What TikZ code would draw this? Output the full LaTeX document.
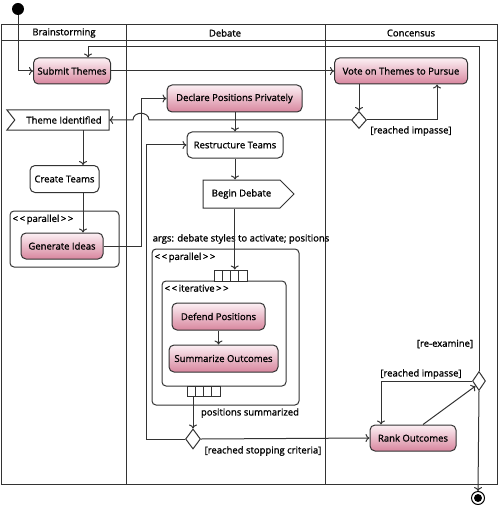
\documentclass[tikz,border=0pt]{standalone}
\usepackage{fontspec}
\setmainfont{Open Sans}[FakeBold=1.2]
\usepackage{tikz}
\usetikzlibrary{shapes.geometric,shapes.symbols}
\definecolor{lineGray}{HTML}{333333}
\definecolor{actTop}{HTML}{FCF0F4}
\definecolor{actBottom}{HTML}{D8869E}
\tikzset{
    action/.style = {rectangle, rounded corners=5pt, minimum height=26pt, text centered, draw=lineGray, top color=actTop, bottom color=actBottom, line width=1pt, font=\fontsize{9.5}{11}\selectfont},
    plain/.style = {rectangle, rounded corners=5pt, minimum height=26pt, text centered, draw=lineGray, fill=white, line width=1pt, font=\fontsize{9.5}{11}\selectfont},
    region/.style = {rectangle, rounded corners=4pt, draw=lineGray, line width=1pt},
    decision/.style = {diamond, draw=lineGray, fill=white, inner sep=0pt, line width=1pt},
    pinbox/.style = {rectangle, draw=lineGray, fill=white, minimum width=8.25pt, minimum height=11pt, inner sep=0pt, line width=1pt},
    guard/.style = {inner sep=0pt, text=black, font=\fontsize{9.5}{11}\selectfont},
    arrow/.style = {line width=1pt, draw=lineGray, -{To[length=4pt,width=8pt]}}
}
\usetikzlibrary{arrows.meta}

\begin{document}
\begin{tikzpicture}[x=1pt, y=-1pt]
\useasboundingbox (0,0) rectangle (500,505);

\draw [line width=1pt, draw=lineGray] (1,25) rectangle (497,484);
\draw [line width=1pt, draw=lineGray] (1,41) -- (497,41);
\draw [line width=1pt, draw=lineGray] (126,25) -- (126,484);
\draw [line width=1pt, draw=lineGray] (325,25) -- (325,484);
\node (hdrBrain) [guard] at (64,33) {Brainstorming};
\node (hdrDebate) [guard] at (225,33) {Debate};
\node (hdrConsensus) [guard] at (411,33) {Concensus};

\node (start) [circle, fill=black, minimum size=12pt, inner sep=0pt] at (18,9) {};
\node (submit) [action, minimum width=77pt] at (72,71) {Submit Themes};
\node (vote) [action, minimum width=133pt] at (401,71) {Vote on Themes to Pursue};
\node (voteDec) [decision, minimum width=15pt, minimum height=17pt] at (359,120) {};
\node (theme) [minimum width=102pt, minimum height=20pt, inner sep=0pt, font=\fontsize{9.5}{11}\selectfont] at (58,120) {\hspace*{12pt}Theme Identified};
\draw [line width=1pt, draw=lineGray] (theme.north west) -- (theme.north east) -- (theme.south east) -- (theme.south west) -- ([xshift=8pt]theme.west) -- cycle;
\node (create) [plain, minimum width=69pt, minimum height=27pt] at (64.5,179) {Create Teams};
\node (parA) [region, minimum width=109pt, minimum height=56pt] at (64.5,239) {};
\node (parALbl) [guard, anchor=north west] at ([xshift=3pt,yshift=-4pt]parA.north west) {<\,<\,parallel\,>\,>};
\node (gen) [action, minimum width=82pt] at (62,246) {Generate Ideas};

\node (declare) [action, minimum width=135pt, minimum height=27pt] at (234.5,98.5) {Declare Positions Privately};
\node (restructure) [plain, minimum width=96pt] at (235,145) {Restructure Teams};
\node (begin) [signal, signal to=east, signal pointer angle=90, draw=lineGray, fill=white, line width=1pt, minimum width=91pt, minimum height=28pt, font=\fontsize{9.5}{11}\selectfont] at (241.5,194) {Begin Debate};
\node (args) [guard] at (241,239) {args: debate styles to activate; positions};
\node (parB) [region, minimum width=147pt, minimum height=156pt] at (225.5,327) {};
\node (parBLbl) [guard, anchor=north west] at ([xshift=3pt,yshift=-4pt]parB.north west) {<\,<\,parallel\,>\,>};
\node (iter) [region, minimum width=124pt, minimum height=105pt] at (224,333.5) {};
\node (iterLbl) [guard, anchor=north west] at ([xshift=3pt,yshift=-4pt]iter.north west) {<\,<\,iterative\,>\,>};
\foreach \i in {1,...,4} {
    \node (pinIn\i) [pinbox] at ({210+8.25*\i},275.5) {};
    \node (pinOut\i) [pinbox, minimum height=10pt] at ({183+8.25*\i},391) {};
}
\node (defend) [action, minimum width=93pt, minimum height=27pt] at (218.5,316.5) {Defend Positions};
\node (summarize) [action, minimum width=109pt, minimum height=27pt] at (223.5,358.5) {Summarize Outcomes};
\node (summarized) [guard] at (250,413) {positions summarized};
\node (stopDec) [decision, minimum width=15pt, minimum height=20pt] at (193,439) {};
\node (stopGuard) [guard] at (263,451) {[reached stopping criteria]};

\node (voteGuard) [guard] at (411,131) {[reached impasse]};
\node (rank) [action, minimum width=86pt] at (413,438) {Rank Outcomes};
\node (reDec) [decision, minimum width=13pt, minimum height=19pt] at (479,381) {};
\node (impasseGuard) [guard] at (421,374) {[reached impasse]};
\node (reGuard) [guard] at (445,344) {[re-examine]};
\node (end) [circle, draw=black, line width=1pt, minimum size=13pt, inner sep=0pt, path picture={\fill[black] (path picture bounding box.center) circle (4pt);}] at (478,498) {};

\coordinate (loopTop) at (479,47);
\coordinate (hopX) at (141,0);
\coordinate (backX) at (146,0);
\coordinate (colA) at (83,0);

\draw [arrow] (start) |- (submit.west);
\draw [arrow] (reDec.north) -- (loopTop) -| ([xshift=16pt]submit.north);
\draw [arrow] (submit) -- (vote);
\draw [arrow] (vote.south -| voteDec) -- (voteDec.north);
\draw [arrow] (voteDec.east) -| ([xshift=36pt]vote.south);
\draw [arrow] (voteDec.west) -- ([xshift=8pt]voteDec.west -| hopX) .. controls ([xshift=8pt,yshift=9pt]voteDec.west -| hopX) and ([xshift=-8pt,yshift=9pt]voteDec.west -| hopX) .. ([xshift=-8pt]voteDec.west -| hopX) -- (theme.east);
\draw [arrow] (theme.south -| colA) -- (create.north -| colA);
\draw [arrow] (create.south -| colA) -- (gen.north -| colA);
\draw [arrow] (gen.east) -- (gen.east -| hopX) |- (declare.west);
\draw [arrow] (declare.south -| restructure) -- (restructure.north);
\draw [arrow] (restructure.south) -- (restructure.south |- begin.north);
\draw [arrow] (pinIn3 |- begin.south) -- (pinIn3.north);
\draw [arrow] (defend.south) -- (defend.south |- summarize.north);
\draw [arrow] (stopDec |- pinOut2.south) -- (stopDec.north);
\draw [arrow] (stopDec.west) -- (stopDec.west -| backX) |- (restructure.west);
\draw [arrow] (stopDec.east) -- (rank.west);
\draw [arrow] ([xshift=10pt]rank.north) -- (reDec.south west);
\draw [arrow] (reDec.west) -| ([xshift=-32pt]rank.north);
\draw [arrow] (reDec.south) -- (end.north);
\end{tikzpicture}
\end{document}
